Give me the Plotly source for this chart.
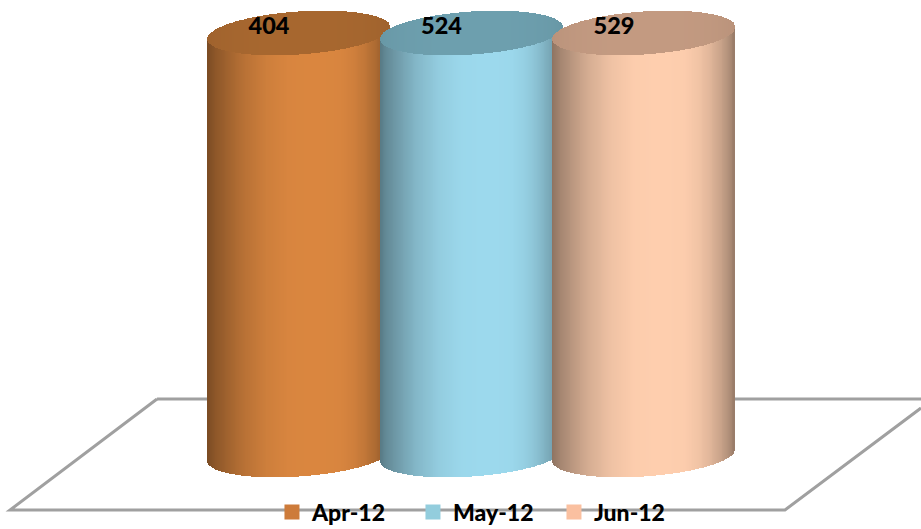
import numpy as np
import plotly.graph_objects as go

categories = ["Apr-12", "May-12", "Jun-12"]
values = [404, 524, 529]
share = [100, 100, 100]
body_colors = [(219, 135, 64), (157, 218, 238), (255, 207, 175)]
lid_colors = [(168, 104, 48), (110, 160, 175), (196, 155, 130)]
legend_colors = ["#CD7B3A", "#93CDDD", "#FAC0A0"]

W, H = 921, 529
PX_X, X0 = 172.5, 299.0
PX_Y, Y0 = 4.22, 455.0
RADIUS = 91.0 / PX_X
B = 21.5 / PX_Y
S = 6.0 / PX_Y
N = 200


def shade_at(u):
    return np.interp(u, [-1, -0.92, -0.75, -0.6, -0.35, -0.1, 0.2, 0.45, 0.6, 0.72, 0.85, 0.92, 1],
                     [0.56, 0.64, 0.75, 0.84, 0.94, 0.99, 1.0, 0.99, 0.95, 0.89, 0.79, 0.72, 0.6])


def rgb(col, f):
    return [f"rgb({int(col[0]*k)},{int(col[1]*k)},{int(col[2]*k)})" for k in f]


u = (np.arange(N) + 0.5) / N * 2 - 1
half = np.sqrt(1 - u ** 2)
slice_w = 2 * RADIUS / N * 1.5

fig = go.Figure()
for i, cat in enumerate(categories):
    xs = i + u * RADIUS
    fig.add_trace(go.Bar(x=xs, base=S * u - B * half, y=share[i] + B * half,
                         width=slice_w, marker=dict(color=rgb(body_colors[i], shade_at(u)), line_width=0),
                         showlegend=False, hoverinfo="skip"))
    fig.add_trace(go.Bar(x=xs, base=share[i] + S * u - B * half, y=2 * B * half,
                         width=slice_w,
                         marker=dict(color=rgb(lid_colors[i], 0.94 + 0.06 * half), line_width=0),
                         showlegend=False, hoverinfo="skip"))

for i, cat in enumerate(categories):
    fig.add_trace(go.Scatter(x=[None], y=[None], mode="markers", name=cat,
                             marker=dict(symbol="square", size=15, color=legend_colors[i])))

fig.add_trace(go.Scatter(x=[i - 30 / PX_X for i in range(3)], y=[s + 1.2 for s in share],
                         text=[str(v) for v in values], mode="text", showlegend=False, hoverinfo="skip",
                         textposition="middle center",
                         textfont=dict(family="Lato", size=23.5, weight=900, color="#000000")))

floor = [[(157, 399), (921, 399)], [(157, 399), (10, 510), (785, 510), (921, 408)]]
for seg in floor:
    path = "M " + " L ".join(f"{x / W:.4f},{1 - y / H:.4f}" for x, y in seg)
    fig.add_shape(type="path", path=path, xref="paper", yref="paper", layer="below",
                  line=dict(color="#A0A0A0", width=3))

fig.update_layout(
    width=W, height=H, margin=dict(l=0, r=0, t=0, b=0, autoexpand=False),
    paper_bgcolor="white", plot_bgcolor="white", barmode="overlay", bargap=0,
    xaxis=dict(range=[-X0 / PX_X, (W - X0) / PX_X], visible=False, fixedrange=True),
    yaxis=dict(range=[(Y0 - H) / PX_Y, Y0 / PX_Y], visible=False, fixedrange=True),
    legend=dict(orientation="h", x=0.2953, xanchor="left", y=1 - 512 / H, yanchor="middle",
                bgcolor="rgba(0,0,0,0)", entrywidth=96, entrywidthmode="pixels",
                font=dict(family="Lato", size=23, weight=900, color="#000000")),
    hovermode=False,
)
fig.write_html("out.html", config={"displayModeBar": False},
               post_script="document.body.style.margin='0';document.body.style.overflow='hidden';")
